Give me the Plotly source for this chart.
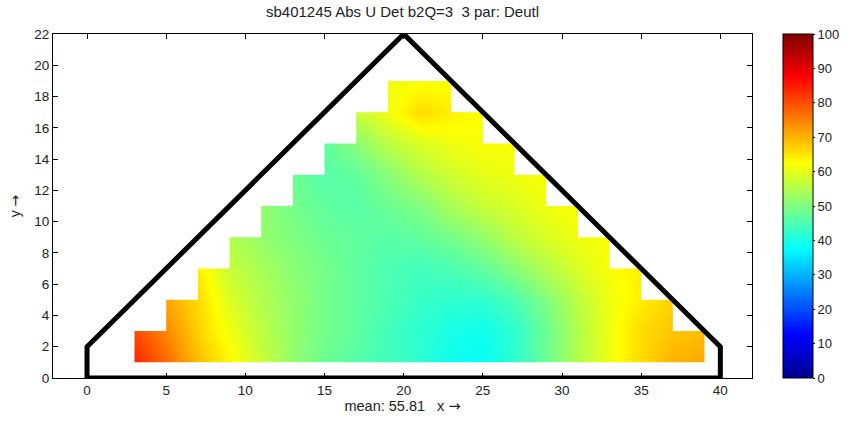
import plotly.graph_objects as go

# ---------------- data ----------------
title_text = "sb401245 Abs U Det b2Q=3  3 par: Deutl"
arrow = "<span style='font-family:DejaVu Sans'>\u2192</span>"
xlabel_text = "mean: 55.81   x " + arrow
ylabel_text = "y " + arrow

x_nodes = [3, 5, 7, 9, 11, 13, 15, 17, 19, 21, 23, 25, 27, 29, 31, 33, 35, 37, 39]
y_nodes = [1, 3, 5, 7, 9, 11, 13, 15, 17, 19]
N = None
z_y1 = [84, 77, 69, 63, 57, 52, 48, 46, 44, 42, 39, 38, 42, 48, 55, 61, 66, 70, 71]
z_y3 = [80, 74, 67, 61, 56, 52, 49, 47, 44, 42, 40, 39, 42, 48, 55, 61, 66, 68, 69]
z_y5 = [N, 71, 66, 59, 55, 52, 49, 47, 45, 43, 42, 42, 45, 50, 56, 61, 64, 67, N]
z_y7 = [N, N, 64, 57, 54, 51, 49, 47, 45, 44, 45, 47, 51, 55, 59, 62, 64, N, N]
z_y9 = [N, N, N, 55, 52, 50, 48, 47, 46, 47, 49, 52, 56, 59, 61, 62, N, N, N]
z_y11 = [N, N, N, N, 52, 49, 47, 46, 48, 50, 54, 57, 59, 61, 62, N, N, N, N]
z_y13 = [N, N, N, N, N, 48, 46, 47, 51, 55, 58, 60, 61, 62, N, N, N, N, N]
z_y15 = [N, N, N, N, N, N, 47, 51, 56, 59, 61, 62, 62, N, N, N, N, N, N]
z_y17 = [N, N, N, N, N, N, N, 57, 61, 66, 64, 62, N, N, N, N, N, N, N]
z_y19 = [N, N, N, N, N, N, N, N, 61, 62, 62, N, N, N, N, N, N, N, N]
z_rows = [z_y1, z_y3, z_y5, z_y7, z_y9, z_y11, z_y13, z_y15, z_y17, z_y19]

outline_x = [0, 0, 20, 40, 40, 0]
outline_y = [0, 2, 22, 2, 0, 0]

x_range = [-2.15, 42.0]
y_range = [0, 22]
x_ticks = [0, 5, 10, 15, 20, 25, 30, 35, 40]
y_ticks = [0, 2, 4, 6, 8, 10, 12, 14, 16, 18, 20, 22]
cbar_ticks = [0, 10, 20, 30, 40, 50, 60, 70, 80, 90, 100]

jet = [[0.0, "#00008F"], [0.125, "#0000FF"], [0.375, "#00FFFF"],
       [0.625, "#FFFF00"], [0.875, "#FF0000"], [1.0, "#800000"]]

# ---------------- staircase boundary (from valid nodes) ----------------
def row_extent(row):
    idx = [i for i, v in enumerate(row) if v is not None]
    return x_nodes[idx[0]], x_nodes[idx[-1]]

cells = []
for k in range(len(y_nodes) - 1):
    l0, r0 = row_extent(z_rows[k])
    l1, r1 = row_extent(z_rows[k + 1])
    cells.append((max(l0, l1), min(r0, r1), y_nodes[k], y_nodes[k + 1]))

left_side = []
for (L, R, yb, yt) in cells:
    left_side += [(L, yb), (L, yt)]
right_side = []
for (L, R, yb, yt) in reversed(cells):
    right_side += [(R, yt), (R, yb)]
stair = left_side + right_side

polyA = [(x_range[0], y_range[0]), (cells[0][0], y_range[0])] + stair + \
        [(cells[0][1], y_range[0]), (x_range[1], y_range[0]),
         (x_range[1], y_range[1]), (x_range[0], y_range[1]), (x_range[0], y_range[0])]
polyB = [(x_range[0], y_range[0]), (x_range[1], y_range[0]),
         (x_range[1], y_nodes[0]), (x_range[0], y_nodes[0]), (x_range[0], y_range[0])]
mask_x = [p[0] for p in polyA] + [None] + [p[0] for p in polyB]
mask_y = [p[1] for p in polyA] + [None] + [p[1] for p in polyB]

font_family = "Liberation Sans, Arial, sans-serif"
txt_color = "#222222"

fig = go.Figure()
fig.add_trace(go.Heatmap(
    x=x_nodes, y=y_nodes, z=z_rows, zsmooth="best",
    colorscale=jet, zmin=0, zmax=100, hoverinfo="skip",
    colorbar=dict(
        xref="paper", x=(783 - 53) / 699, xanchor="left", xpad=0,
        y=0.5, yanchor="middle", ypad=0, len=1, lenmode="fraction",
        thickness=30, thicknessmode="pixels",
        outlinecolor="black", outlinewidth=1,
        tickvals=cbar_ticks, ticks="outside", ticklen=2, tickcolor="black",
        tickfont=dict(family=font_family, size=13, color=txt_color),
    ),
))
fig.add_trace(go.Scatter(
    x=mask_x, y=mask_y, mode="lines", fill="toself", fillcolor="white",
    line=dict(width=0, color="white"), hoverinfo="skip", showlegend=False,
))
fig.add_trace(go.Scatter(
    x=outline_x, y=outline_y, mode="lines",
    line=dict(color="black", width=5), hoverinfo="skip", showlegend=False,
))

axis_common = dict(
    showgrid=False, zeroline=False, showline=True, linecolor="black", linewidth=1,
    mirror="ticks", ticks="inside", ticklen=5, tickcolor="black",
    tickfont=dict(family=font_family, size=13.5, color=txt_color),
)
fig.update_layout(
    width=853, height=424,
    margin=dict(l=53, r=101, t=34, b=46),
    paper_bgcolor="white", plot_bgcolor="white",
    showlegend=False,
    title=dict(text=title_text, x=0.5, xref="paper", xanchor="center",
               y=1 - 12 / 424, yref="container", yanchor="middle",
               font=dict(family=font_family, size=15, color=txt_color)),
    xaxis=dict(range=x_range, tickvals=x_ticks,
               title=dict(text=xlabel_text, standoff=2,
                          font=dict(family=font_family, size=14.5, color=txt_color)),
               **axis_common),
    yaxis=dict(range=y_range, tickvals=y_ticks,
               title=dict(text=ylabel_text, standoff=10,
                          font=dict(family=font_family, size=14, color=txt_color)),
               **axis_common),
)

fig.write_html("out.html")
